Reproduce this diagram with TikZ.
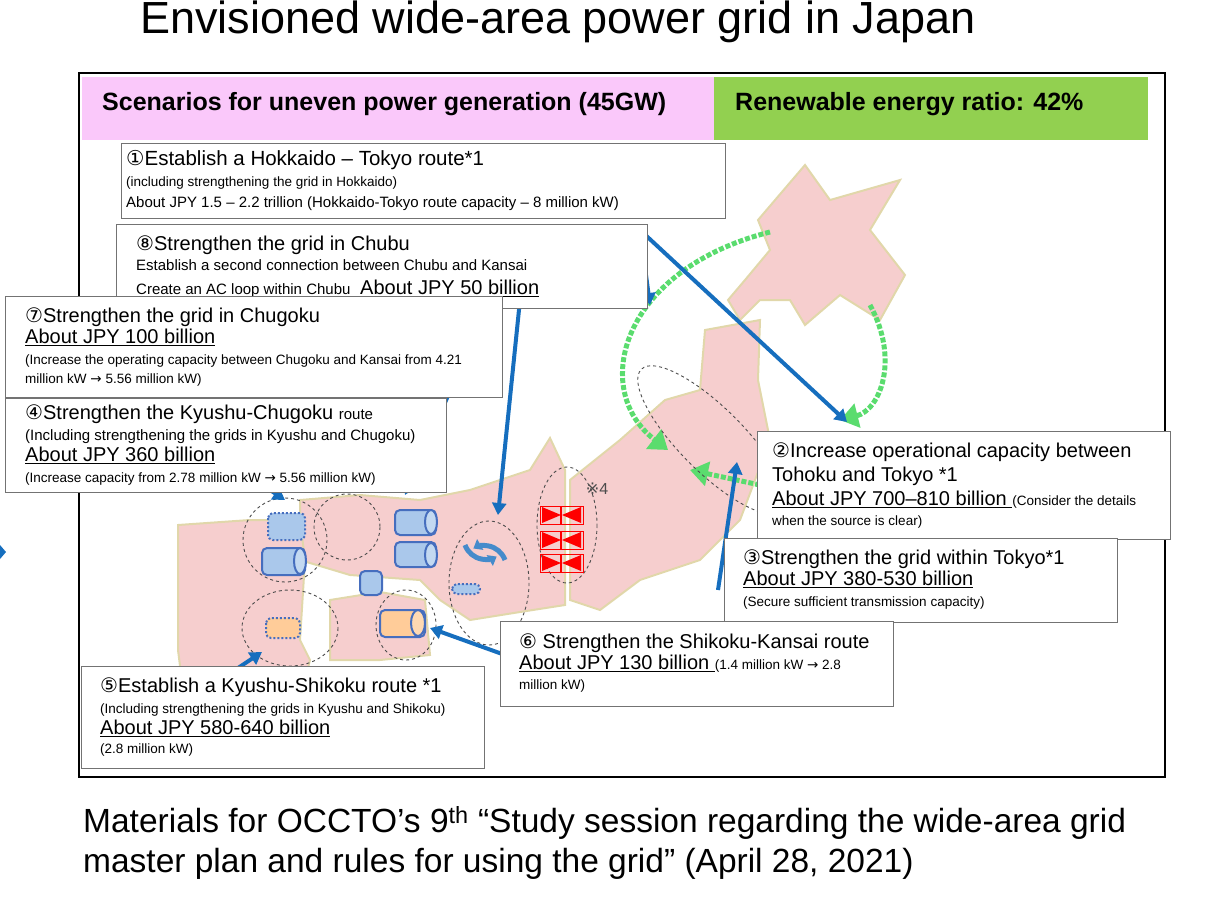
\documentclass[tikz,border=0pt]{standalone}
\usepackage{fontspec}
\setmainfont{Liberation Sans}
\newfontfamily\djfont{DejaVu Sans}
\usetikzlibrary{arrows.meta,shapes.geometric}
\definecolor{hdrpink}{RGB}{250,200,250}
\definecolor{hdrgreen}{RGB}{146,208,80}
\definecolor{land}{RGB}{246,206,206}
\definecolor{landedge}{RGB}{225,215,170}
\definecolor{arrblue}{RGB}{22,110,190}
\definecolor{cylblue}{RGB}{170,200,235}
\definecolor{cyledge}{RGB}{70,110,190}
\definecolor{grn}{RGB}{90,220,110}
\newcommand{\cn}[1]{{\djfont #1}}
\newcommand{\sm}{\fontsize{13.5}{16}\selectfont}
\newcommand{\md}{\fontsize{15}{17}\selectfont}
\tikzset{
 boxframe/.style={draw=black!55,line width=1.2pt,fill=white,anchor=north west,inner sep=0pt},
 boxtext/.style={anchor=north west,align=left,inner sep=0pt,font=\fontsize{20}{22}\selectfont},
 blarrow/.style={draw=arrblue,line width=4pt,-{Triangle[length=12pt,width=14pt]}},
 grarrow/.style={draw=grn,line width=5pt,dotted,-{Triangle[length=18pt,width=24pt]}},
 dcirc/.style={draw=black!70,dashed,line width=0.9pt},
 cyl/.style={draw=cyledge,fill=cylblue,line width=2pt,rounded corners=5pt},
 landshape/.style={fill=land,draw=landedge,line width=2pt}
}
\begin{document}
\begin{tikzpicture}[x=1pt,y=-1pt]
\useasboundingbox (0,0) rectangle (1226,900);
\node[anchor=center,font=\fontsize{45}{50}\selectfont] (title) at (558,22) {Envisioned wide-area power grid in Japan};
\draw[line width=1.3pt] (79,73) rectangle (1165,777);
\fill[hdrpink] (82,77) rectangle (714,140);
\fill[hdrgreen] (714,77) rectangle (1148,140);
\node[font=\bfseries\fontsize{25}{28}\selectfont,anchor=west,inner sep=0pt] (h1) at (102,104) {Scenarios for uneven power generation (45GW)};
\node[font=\bfseries\fontsize{25}{28}\selectfont,anchor=west,inner sep=0pt] (h2) at (735,104) {Renewable energy ratio: 42\%};
% map
\fill[landshape] (805,165) -- (830,200) -- (900,180) -- (870,230) -- (905,275) -- (880,320) -- (840,295) -- (805,325) -- (790,300) -- (760,300) -- (740,320) -- (728,300) -- (745,280) -- (770,250) -- (758,220) -- cycle;
\fill[landshape] (705,330) -- (760,320) -- (758,380) -- (770,440) -- (740,520) -- (700,560) -- (640,580) -- (600,610) -- (570,600) -- (570,480) -- (620,440) -- (665,400) -- (700,390) -- cycle;
\fill[landshape] (550,438) -- (565,470) -- (565,605) -- (520,612) -- (470,620) -- (440,600) -- (420,580) -- (350,575) -- (300,560) -- (300,500) -- (360,495) -- (420,500) -- (470,490) -- (530,470) -- cycle;
\fill[landshape] (178,525) -- (250,520) -- (300,520) -- (305,560) -- (300,640) -- (310,660) -- (300,700) -- (300,760) -- (250,765) -- (220,745) -- (185,705) -- (178,650) -- cycle;
\fill[landshape] (330,600) -- (380,592) -- (425,600) -- (430,655) -- (380,660) -- (330,660) -- cycle;
% green arrows
\draw[grarrow] (770,232) .. controls (620,270) and (590,390) .. (668,450);
\draw[grarrow] (870,305) .. controls (900,360) and (880,410) .. (840,420);
\draw[grarrow] (760,485) -- (690,470);
% dashed circles
\draw[dcirc] (285,540) circle (42);
\draw[dcirc] (347,527) circle (33);
\draw[dcirc] (290,628) ellipse (48 and 38);
\draw[dcirc] (406,625) ellipse (30 and 35);
\draw[dcirc] (489,583) ellipse (40 and 62);
\draw[dcirc] (567,525) ellipse (30 and 58);
\draw[dcirc,rotate around={-45:(712,440)}] (712,440) ellipse (100 and 32);
% cylinders
\draw[cyl,dotted] (268,513) rectangle (305,540);
\draw[cyl] (262,548) rectangle (305,575); \draw[cyledge,line width=2pt,fill=cylblue!70] (300,561) ellipse (6 and 13);
\draw[cyl] (395,510) rectangle (436,535); \draw[cyledge,line width=2pt,fill=cylblue!70] (431,522) ellipse (6 and 12);
\draw[cyl] (395,542) rectangle (436,567); \draw[cyledge,line width=2pt,fill=cylblue!70] (431,555) ellipse (6 and 12);
\draw[cyl] (360,571) rectangle (382,595);
\draw[cyl,fill=orange!40,dotted] (266,618) rectangle (300,638);
\draw[cyl,fill=orange!40] (380,610) rectangle (425,637); \draw[cyledge,line width=2pt,fill=orange!30] (418,623) ellipse (7 and 13);
\draw[cyl,dotted] (452,584) rectangle (480,594);
\draw[arrblue!80,line width=5pt,-{Triangle[length=8pt,width=12pt]}] (465,545) arc (160:60:22);
\draw[arrblue!80,line width=5pt,-{Triangle[length=8pt,width=12pt]}] (505,560) arc (-20:-120:22);
% red symbols
\foreach \yy in {515,540,563}{
 \draw[red,line width=0.8pt] (540,\yy-9) rectangle (583,\yy+9);
 \fill[red] (542,\yy-8) -- (561,\yy) -- (542,\yy+8) -- cycle (581,\yy-8) -- (562,\yy) -- (581,\yy+8) -- cycle;
 \draw[red,line width=2pt] (561,\yy-9) -- (561,\yy+9);
}
\node[font=\fontsize{16}{18}\selectfont,text=black!70] (x4) at (597,489) {\cn{※}4};
% box 1
\node[boxframe,minimum width=604pt,minimum height=75pt] (b1) at (121,143) {};
\node[boxtext,font=\fontsize{20.5}{22}\selectfont] (t1) at (126,150) {\cn{①}Establish a Hokkaido -- Tokyo route*1\\[-1pt]{\sm (including strengthening the grid in Hokkaido)}\\[-1pt]{\md About JPY 1.5 -- 2.2 trillion (Hokkaido-Tokyo route capacity -- 8 million kW)}};
\coordinate (b1o) at (640,230);
\draw[blarrow] (b1o) -- (650,305);
\draw[blarrow] (b1o) -- (847,422);
\draw[blarrow] (520,300) -- (498,515);
\draw[blarrow] (470,345) -- (405,495);
\draw[blarrow] (255,480) -- (285,500);
\draw[blarrow] (718,590) -- (737,462);
\draw[blarrow] (505,655) -- (430,628);
\draw[blarrow] (235,670) -- (262,652);
% box 8
\node[boxframe,minimum width=531pt,minimum height=84pt] (b8) at (116,224) {};
\node[boxtext] (t8) at (136,236) {\cn{⑧}Strengthen the grid in Chubu\\[-2pt]{\md Establish a second connection between Chubu and Kansai}\\[2pt]{\md Create an AC loop within Chubu }\ \underline{About JPY 50 billion}};
% box 7
\node[boxframe,minimum width=497pt,minimum height=101pt] (b7) at (5,296) {};
\node[boxtext] (t7) at (25,308) {\cn{⑦}Strengthen the grid in Chugoku\\[-1pt]\underline{About JPY 100 billion}\\[-1pt]{\sm (Increase the operating capacity between Chugoku and Kansai from 4.21}\\[-3pt]{\sm million kW \cn{→} 5.56 million kW)}};
% box 4
\node[boxframe,minimum width=441pt,minimum height=94pt] (b4) at (5,398) {};
\node[boxtext] (t4) at (25,405) {\cn{④}Strengthen the Kyushu-Chugoku {\md route}\\[-1pt]{\md (Including strengthening the grids in Kyushu and Chugoku)}\\[-1pt]\underline{About JPY 360 billion}\\[-1pt]{\sm (Increase capacity from 2.78 million kW \cn{→} 5.56 million kW)}};
% box 2
\node[boxframe,minimum width=413pt,minimum height=108pt] (b2) at (757,431) {};
\node[boxtext] (t2) at (772,443) {\cn{②}Increase operational capacity between\\[2pt]Tohoku and Tokyo *1\\[2pt]\underline{About JPY 700--810 billion }{\sm (Consider the details}\\[-2pt]{\sm when the source is clear)}};
% box 3
\node[boxframe,minimum width=393pt,minimum height=84pt] (b3) at (724,538) {};
\node[boxtext] (t3) at (743,550) {\cn{③}Strengthen the grid within Tokyo*1\\[-1pt]\underline{About JPY 380-530 billion}\\[-1pt]{\sm (Secure sufficient transmission capacity)}};
% box 6
\node[boxframe,minimum width=393pt,minimum height=85pt] (b6) at (500,621) {};
\node[boxtext] (t6) at (519,634) {\cn{⑥} Strengthen the Shikoku-Kansai route\\[-1pt]\underline{About JPY 130 billion }{\sm (1.4 million kW \cn{→} 2.8}\\[-2pt]{\sm million kW)}};
% box 5
\node[boxframe,minimum width=403pt,minimum height=102pt] (b5) at (81,666) {};
\node[boxtext] (t5) at (100,678) {\cn{⑤}Establish a Kyushu-Shikoku route *1\\[-1pt]{\sm (Including strengthening the grids in Kyushu and Shikoku)}\\[-1pt]\underline{About JPY 580-640 billion}\\[-3pt]{\sm (2.8 million kW)}};
\fill[arrblue] (0,545) -- (6,552) -- (0,559) -- cycle;
\node[anchor=north west,align=left,font=\fontsize{33.5}{40}\selectfont,inner sep=0pt] (cap) at (83,806) {Materials for OCCTO's 9\textsuperscript{th} ``Study session regarding the wide-area grid\\master plan and rules for using the grid'' (April 28, 2021)};
\end{tikzpicture}
\end{document}
